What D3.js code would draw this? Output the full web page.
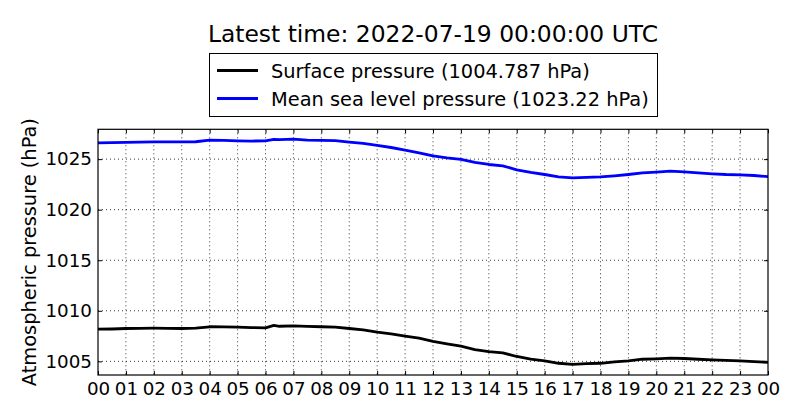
<!DOCTYPE html>
<html>
<head>
<meta charset="utf-8">
<script src="https://cdn.jsdelivr.net/npm/d3@7"></script>
<style>
body{margin:0;background:#fff;}
svg{display:block;font-family:"DejaVu Sans",sans-serif;}
</style>
</head>
<body>
<svg id="chart" width="800" height="420"></svg>
<script>
const titleText = "Latest time: 2022-07-19 00:00:00 UTC";
const yLabel = "Atmospheric pressure (hPa)";
const seriesNames = ["Surface pressure (1004.787 hPa)", "Mean sea level pressure (1023.22 hPa)"];
const seriesColors = ["#000000", "#0000ff"];
const hours = [0,0.5,1,1.5,2,2.5,3,3.5,4,4.5,5,5.5,6,6.3,6.5,7,7.5,8,8.5,9,9.5,10,10.5,11,11.5,12,12.5,13,13.5,14,14.5,15,15.5,16,16.5,17,17.5,18,18.5,19,19.5,20,20.5,21,21.5,22,22.5,23,23.5,24];
const surface = [1008.18,1008.20,1008.25,1008.27,1008.28,1008.27,1008.25,1008.28,1008.42,1008.41,1008.38,1008.33,1008.32,1008.55,1008.47,1008.51,1008.46,1008.42,1008.38,1008.25,1008.12,1007.88,1007.72,1007.49,1007.29,1006.98,1006.73,1006.50,1006.17,1005.97,1005.84,1005.48,1005.21,1005.05,1004.81,1004.71,1004.78,1004.81,1004.94,1005.05,1005.21,1005.25,1005.31,1005.28,1005.21,1005.15,1005.10,1005.05,1004.98,1004.90];
const mslp = [1026.61,1026.63,1026.65,1026.68,1026.71,1026.71,1026.71,1026.72,1026.88,1026.86,1026.81,1026.79,1026.80,1026.96,1026.93,1026.98,1026.88,1026.85,1026.83,1026.68,1026.55,1026.35,1026.15,1025.89,1025.63,1025.33,1025.13,1024.97,1024.67,1024.47,1024.34,1023.94,1023.68,1023.48,1023.25,1023.15,1023.20,1023.25,1023.35,1023.48,1023.64,1023.71,1023.81,1023.74,1023.64,1023.55,1023.48,1023.45,1023.38,1023.26];
const xTickValues = d3.range(0,25);
const xTickLabels = ["00","01","02","03","04","05","06","07","08","09","10","11","12","13","14","15","16","17","18","19","20","21","22","23","00"];
const yTicks = [1005,1010,1015,1020,1025];
const yDomain = [1003.65, 1027.95];

const svg = d3.select("#chart");
const L = 98, R = 768, T = 129.3, B = 375;
const x = d3.scaleLinear().domain([0,24]).range([L,R]);
const y = d3.scaleLinear().domain(yDomain).range([B,T]);

// grid
const g = svg.append("g");
g.selectAll(".vg").data(xTickValues.slice(1,-1)).join("line")
  .attr("x1",d=>x(d)).attr("x2",d=>x(d)).attr("y1",T).attr("y2",B)
  .attr("stroke","#000").attr("stroke-width",0.8).attr("stroke-dasharray","1,3");
g.selectAll(".hg").data(yTicks).join("line")
  .attr("x1",L).attr("x2",R).attr("y1",d=>y(d)).attr("y2",d=>y(d))
  .attr("stroke","#000").attr("stroke-width",0.8).attr("stroke-dasharray","1,3");

// lines
const series = [surface, mslp];
const line = d3.line().x((d,i)=>x(hours[i])).y(d=>y(d));
svg.append("clipPath").attr("id","clip").append("rect").attr("x",L).attr("y",T).attr("width",R-L).attr("height",B-T);
series.forEach((s,k)=>{
  svg.append("path").datum(s).attr("d",line).attr("fill","none")
    .attr("stroke",seriesColors[k]).attr("stroke-width",2.8).attr("stroke-linejoin","round")
    .attr("clip-path","url(#clip)");
});

// axes (ticks inside)
const xb = svg.append("g").attr("transform",`translate(0,${B})`)
  .call(d3.axisBottom(x).tickValues(xTickValues).tickFormat((d,i)=>xTickLabels[i]).tickSizeInner(-4).tickSizeOuter(0).tickPadding(7));
const xt = svg.append("g").attr("transform",`translate(0,${T})`)
  .call(d3.axisTop(x).tickValues(xTickValues).tickFormat("").tickSizeInner(-4).tickSizeOuter(0));
const yl = svg.append("g").attr("transform",`translate(${L},0)`)
  .call(d3.axisLeft(y).tickValues(yTicks).tickFormat(d3.format("d")).tickSizeInner(-4).tickSizeOuter(0).tickPadding(6));
const yr = svg.append("g").attr("transform",`translate(${R},0)`)
  .call(d3.axisRight(y).tickValues(yTicks).tickFormat("").tickSizeInner(-4).tickSizeOuter(0));
[xb,xt,yl,yr].forEach(a=>{
  a.select(".domain").remove();
  a.selectAll("line").attr("stroke","#000").attr("stroke-width",1);
  a.selectAll("text").attr("fill","#000").attr("font-size","18.3px").attr("font-family","DejaVu Sans");
});
svg.append("rect").attr("x",L).attr("y",T).attr("width",R-L).attr("height",B-T)
  .attr("fill","none").attr("stroke","#000").attr("stroke-width",1.2);

// y label
svg.append("text").attr("transform",`translate(36,${(T+B)/2}) rotate(-90)`)
  .attr("text-anchor","middle").attr("font-size","19.4px").attr("fill","#000").text(yLabel);

// title
svg.append("text").attr("x",(L+R)/2).attr("y",42).attr("text-anchor","middle")
  .attr("font-size","23.4px").attr("fill","#000").text(titleText);

// legend
const lg = svg.append("g");
lg.append("rect").attr("x",209.5).attr("y",53.5).attr("width",448).attr("height",63)
  .attr("fill","#fff").attr("stroke","#000").attr("stroke-width",1);
seriesNames.forEach((n,k)=>{
  const yy = 70.5 + k*28;
  lg.append("line").attr("x1",217).attr("x2",258).attr("y1",yy).attr("y2",yy)
    .attr("stroke",seriesColors[k]).attr("stroke-width",2.8);
  lg.append("text").attr("x",271).attr("y",yy+7).attr("font-size","19.4px").attr("fill","#000").text(n);
});
</script>
</body>
</html>
